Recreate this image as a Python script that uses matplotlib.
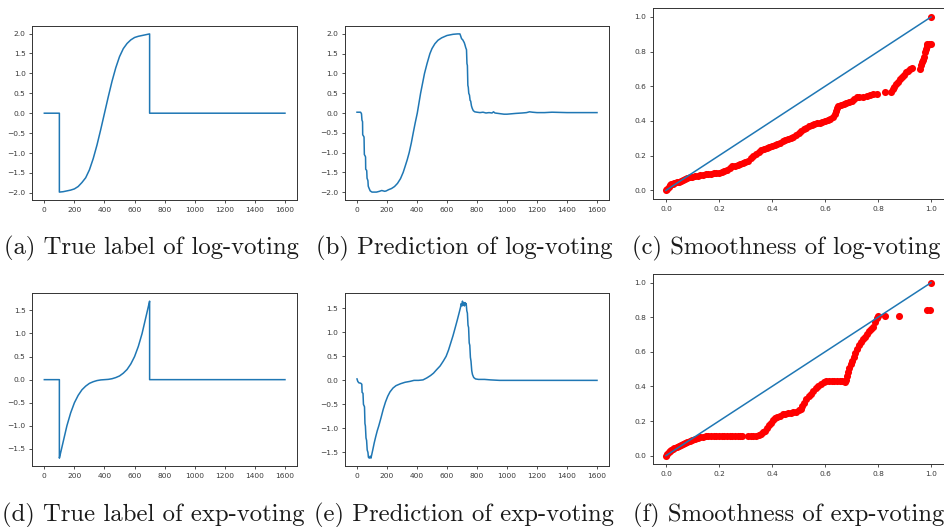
import matplotlib
matplotlib.use("Agg")
import matplotlib.pyplot as plt

# (a) true label, log-voting
a_x = [0, 100, 100, 125, 150, 175, 200, 225, 250, 275, 300, 325, 350, 375, 400,
       425, 450, 475, 500, 525, 550, 575, 600, 625, 650, 675, 700, 700, 1600]
a_y = [0, 0, -1.98, -1.97, -1.95, -1.93, -1.90, -1.84, -1.74, -1.62, -1.42, -1.14, -0.80, -0.41, 0.0,
       0.41, 0.80, 1.14, 1.42, 1.62, 1.75, 1.84, 1.90, 1.93, 1.95, 1.97, 1.99, 0, 0]

# (b) prediction, log-voting
b_x = [0, 24, 27, 30, 33, 35, 37, 38, 46, 47, 49, 56, 57, 58, 64, 65, 67, 72, 73, 75, 80, 88, 100, 130,
       150, 165, 185, 195, 210, 230, 250, 270, 290, 308, 320, 335, 348, 362, 375, 388, 402, 413, 424,
       437, 450, 467, 486, 500, 519, 540, 564, 600, 640, 670, 686, 690, 697, 705, 712, 715, 720, 725,
       730, 733, 736, 739, 742, 745, 750, 754, 758, 763, 768, 775, 785, 800, 820, 840, 860, 880, 900,
       910, 920, 940, 960, 980, 1000, 1030, 1060, 1100, 1130, 1150, 1170, 1200, 1250, 1300, 1400, 1500, 1600]
b_y = [0.02, 0.02, 0.0, -0.02, -0.18, -0.20, -0.22, -0.55, -0.60, -0.62, -1.05, -1.10, -1.12, -1.42, -1.45,
       -1.47, -1.65, -1.70, -1.72, -1.85, -1.90, -1.97, -2.0, -2.0,
       -1.98, -1.96, -1.98, -1.97, -1.94, -1.91, -1.86, -1.78, -1.66, -1.50, -1.36, -1.18, -1.00, -0.76,
       -0.50, -0.25, 0.0, 0.25, 0.50, 0.75, 1.00, 1.25, 1.50, 1.63, 1.75, 1.84, 1.90, 1.96, 1.99, 2.00,
       2.00, 1.96, 1.88, 1.85, 1.80, 1.78, 1.72, 1.65, 1.60, 1.25, 1.20, 0.70, 0.65, 0.50, 0.45, 0.32,
       0.30, 0.18, 0.12, 0.06, 0.03, 0.02, 0.01, 0.02, 0.0, 0.01, 0.0, 0.03, 0.0, -0.01, -0.02, -0.03,
       -0.03, -0.02, -0.01, 0.0, 0.01, 0.03, 0.02, 0.01, 0.01, 0.02, 0.01, 0.01, 0.01]

# (c) smoothness, log-voting
c_x = [0.000, 0.005, 0.010, 0.015, 0.020, 0.025, 0.032, 0.040, 0.048, 0.056, 0.064, 0.072, 0.080,
       0.090, 0.100, 0.110, 0.120, 0.130, 0.140, 0.150, 0.160, 0.170, 0.180, 0.190, 0.200, 0.210,
       0.220, 0.230, 0.240, 0.250, 0.260, 0.270, 0.280, 0.290, 0.300, 0.310, 0.320, 0.330, 0.340,
       0.350, 0.360, 0.370, 0.380, 0.390, 0.400, 0.410, 0.420, 0.430, 0.440, 0.450, 0.460, 0.470,
       0.480, 0.490, 0.500, 0.510, 0.520, 0.530, 0.540, 0.550, 0.560, 0.570, 0.580, 0.590, 0.600,
       0.610, 0.620, 0.630, 0.636, 0.640, 0.644, 0.650, 0.660, 0.670, 0.680, 0.690, 0.700, 0.710,
       0.720, 0.728, 0.745, 0.758, 0.770, 0.782, 0.795, 0.825, 0.850, 0.856, 0.862, 0.868, 0.875,
       0.882, 0.890, 0.898, 0.906, 0.914, 0.922, 0.930, 0.958, 0.962, 0.966, 0.970, 0.974, 0.977,
       0.980, 0.983, 0.986, 0.992, 0.998, 1.000]
c_y = [0.000, 0.010, 0.020, 0.028, 0.034, 0.038, 0.042, 0.046, 0.050, 0.056, 0.060, 0.066, 0.070,
       0.075, 0.078, 0.082, 0.085, 0.088, 0.090, 0.092, 0.095, 0.097, 0.099, 0.100, 0.102, 0.106,
       0.110, 0.117, 0.128, 0.139, 0.143, 0.147, 0.151, 0.156, 0.163, 0.172, 0.186, 0.200, 0.212,
       0.222, 0.230, 0.237, 0.242, 0.248, 0.253, 0.259, 0.266, 0.274, 0.282, 0.288, 0.294, 0.300,
       0.309, 0.319, 0.331, 0.343, 0.354, 0.362, 0.369, 0.375, 0.381, 0.386, 0.390, 0.394, 0.400,
       0.406, 0.414, 0.425, 0.442, 0.458, 0.475, 0.484, 0.490, 0.496, 0.502, 0.510, 0.518, 0.528,
       0.536, 0.540, 0.537, 0.545, 0.550, 0.553, 0.556, 0.566, 0.566, 0.582, 0.598, 0.612, 0.627,
       0.642, 0.656, 0.668, 0.680, 0.690, 0.698, 0.706, 0.700, 0.722, 0.738, 0.752, 0.770, 0.797,
       0.815, 0.835, 0.845, 0.845, 0.845, 1.000]

# (d) true label, exp-voting
d_x = [0, 100, 100, 110, 120, 135, 150, 175, 200, 225, 250, 275, 300, 325, 350, 375, 400,
       425, 450, 475, 500, 525, 550, 575, 600, 625, 650, 665, 680, 690, 700, 700, 1600]
d_y = [0, 0, -1.70, -1.56, -1.42, -1.21, -1.00, -0.72, -0.50, -0.34, -0.22, -0.14, -0.08, -0.045,
       -0.02, -0.006, 0.0, 0.006, 0.02, 0.045, 0.08, 0.14, 0.22, 0.34, 0.50, 0.72, 1.00, 1.21, 1.42,
       1.56, 1.70, 0, 0]

# (e) prediction, exp-voting
e_x = [0, 5, 12, 25, 32, 34, 40, 43, 50, 53, 56, 60, 64, 68, 73, 76, 82, 88, 93, 98, 105, 115, 125,
       135, 145, 160, 175, 190, 205, 220, 240, 260, 290, 320, 355, 380, 410, 440, 465, 490, 510, 530,
       554, 575, 594, 610, 625, 640, 655, 668, 682, 690, 695, 700, 703, 708, 712, 716, 720, 724, 728,
       732, 736, 740, 744, 748, 752, 756, 760, 765, 770, 778, 790, 810, 850, 890, 950, 1000, 1600]
e_y = [0.03, -0.02, -0.05, -0.06, -0.08, -0.25, -0.27, -0.50, -0.55, -0.90, -0.95, -1.20, -1.25,
       -1.45, -1.50, -1.60, -1.62, -1.58, -1.62, -1.55, -1.45, -1.30, -1.17, -1.05, -0.95, -0.78,
       -0.60, -0.45, -0.33, -0.24, -0.16, -0.11, -0.07, -0.04, -0.02, 0.0, 0.0, 0.01, 0.05, 0.10,
       0.15, 0.22, 0.30, 0.40, 0.50, 0.63, 0.78, 0.93, 1.10, 1.25, 1.42, 1.52, 1.60, 1.55, 1.65,
       1.57, 1.62, 1.55, 1.62, 1.58, 1.60, 1.45, 1.40, 1.15, 1.10, 0.78, 0.73, 0.48, 0.40, 0.20,
       0.12, 0.06, 0.03, 0.02, 0.02, 0.01, 0.0, 0.0, 0.0]

# (f) smoothness, exp-voting
f_x = [0.000, 0.005, 0.010, 0.015, 0.020, 0.025, 0.032, 0.040, 0.048, 0.056, 0.064, 0.072, 0.080,
       0.090, 0.100, 0.110, 0.120, 0.130, 0.140, 0.150, 0.160, 0.170, 0.180, 0.190, 0.200, 0.210,
       0.220, 0.230, 0.240, 0.250, 0.260, 0.270, 0.280, 0.288, 0.310, 0.320, 0.330, 0.340, 0.350,
       0.358, 0.365, 0.372, 0.380, 0.388, 0.396, 0.404, 0.412, 0.420, 0.430, 0.440, 0.450, 0.460,
       0.470, 0.480, 0.490, 0.500, 0.508, 0.515, 0.522, 0.530, 0.538, 0.546, 0.555, 0.565, 0.575,
       0.585, 0.595, 0.605, 0.615, 0.625, 0.635, 0.645, 0.655, 0.665, 0.675, 0.680, 0.684, 0.688,
       0.692, 0.697, 0.702, 0.708, 0.714, 0.720, 0.727, 0.734, 0.742, 0.750, 0.758, 0.766, 0.774,
       0.782, 0.790, 0.796, 0.800, 0.825, 0.881, 0.985, 0.995, 1.000]
f_y = [0.000, 0.010, 0.020, 0.028, 0.035, 0.040, 0.046, 0.051, 0.056, 0.062, 0.068, 0.073, 0.079,
       0.085, 0.092, 0.098, 0.103, 0.107, 0.110, 0.112, 0.113, 0.114, 0.114, 0.114, 0.114, 0.114,
       0.114, 0.114, 0.114, 0.114, 0.114, 0.114, 0.114, 0.114, 0.114, 0.114, 0.114, 0.114, 0.117,
       0.125, 0.134, 0.145, 0.160, 0.175, 0.190, 0.204, 0.215, 0.224, 0.232, 0.238, 0.242, 0.245,
       0.247, 0.250, 0.255, 0.262, 0.272, 0.287, 0.305, 0.325, 0.342, 0.358, 0.372, 0.390, 0.405,
       0.417, 0.425, 0.429, 0.430, 0.430, 0.430, 0.430, 0.430, 0.430, 0.426, 0.440, 0.460, 0.482,
       0.505, 0.528, 0.548, 0.570, 0.595, 0.615, 0.638, 0.655, 0.672, 0.688, 0.703, 0.718, 0.730,
       0.745, 0.770, 0.795, 0.805, 0.807, 0.807, 0.843, 0.843, 1.000]

diag = [0, 1]

captions = ["(a) True label of log-voting", "(b) Prediction of log-voting",
            "(c) Smoothness of log-voting", "(d) True label of exp-voting",
            "(e) Prediction of exp-voting", "(f) Smoothness of exp-voting"]

W, H = 944, 527
fig = plt.figure(figsize=(W / 100, H / 100), dpi=100)


def box(x0, x1, y0, y1):
    # pixel box -> figure fraction
    return [x0 / W, 1 - y1 / H, (x1 - x0) / W, (y1 - y0) / H]


def style(ax):
    for s in ax.spines.values():
        s.set_color("#333333")
        s.set_linewidth(0.7)
    ax.tick_params(labelsize=5.4, colors="#333333", labelcolor="#3a3a3a",
                   length=2.2, width=0.6, pad=2.6)


axes = [
    fig.add_axes(box(32.3, 297, 26, 200)),
    fig.add_axes(box(345, 609, 26, 200)),
    fig.add_axes(box(652.7, 944.3, 8.3, 199)),
    fig.add_axes(box(32.3, 297, 293.3, 466)),
    fig.add_axes(box(345, 609, 293.3, 466)),
    fig.add_axes(box(652.7, 944.3, 274, 464.3)),
]

lw = 1.1
axes[0].plot(a_x, a_y, color="#1f77b4", lw=lw)
axes[1].plot(b_x, b_y, color="#1f77b4", lw=lw)
axes[2].scatter(c_x, c_y, s=26, color="red", linewidths=0, zorder=2)
axes[2].plot(diag, diag, color="#1f77b4", lw=lw, zorder=3)
axes[3].plot(d_x, d_y, color="#1f77b4", lw=lw)
axes[4].plot(e_x, e_y, color="#1f77b4", lw=lw)
axes[5].scatter(f_x, f_y, s=26, color="red", linewidths=0, zorder=2)
axes[5].plot(diag, diag, color="#1f77b4", lw=lw, zorder=3)

for ax in axes:
    style(ax)
for ax in axes[:2]:
    ax.set_xticks(range(0, 1601, 200))
    ax.set_yticks([-2.0, -1.5, -1.0, -0.5, 0.0, 0.5, 1.0, 1.5, 2.0])
for ax in axes[3:5]:
    ax.set_xticks(range(0, 1601, 200))
    ax.set_yticks([-1.5, -1.0, -0.5, 0.0, 0.5, 1.0, 1.5])

cap_pos = [(151.5, 254), (464, 254), (786.5, 254), (153.5, 521), (464, 521), (789, 521)]
for (cx, cy), txt in zip(cap_pos, captions):
    fig.text(cx / W, 1 - cy / H, txt, ha="center", va="baseline",
             fontsize=17.8, family="cmr10", color="#1a1a1a")

fig.savefig("out.png", dpi=100)
